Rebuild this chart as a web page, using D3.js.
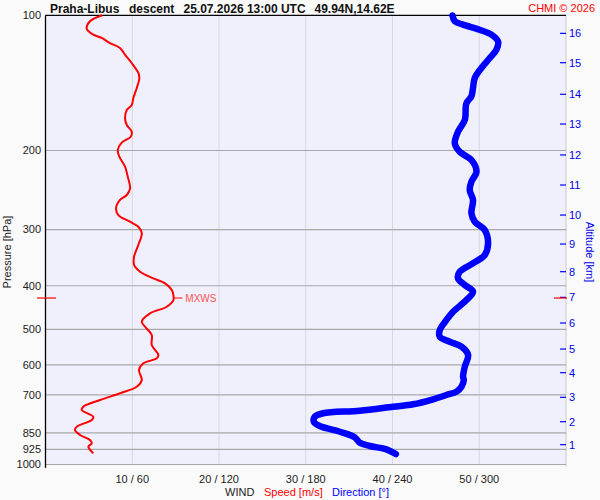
<!DOCTYPE html>
<html><head><meta charset="utf-8">
<script src="https://cdn.jsdelivr.net/npm/d3@7"></script>
<style>
html,body{margin:0;padding:0;background:#fafafa;}
svg{display:block;font-family:"Liberation Sans",Arial,sans-serif;}
</style></head><body>
<svg id="c" width="600" height="500"></svg>
<script>
// ---- data ----
const pressureTicks = [100,200,300,400,500,600,700,850,925,1000];
const windTicks = [10,20,30,40,50];
const windTickLabels = ["10 / 60","20 / 120","30 / 180","40 / 240","50 / 300"];
const altKm = [16,15,14,13,12,11,10,9,8,7,6,5,4,3,2,1];
const altP  = [109.7,127.5,149.9,174.6,204.6,238.7,278.4,323.0,372.2,424.5,484.2,553.3,624.7,708.7,803.0,903.4];

const speedP = [100,103.1,107.1,110.4,112.3,115.3,118.2,122.4,127.7,134.4,137.9,145.1,152.8,158.4,162.5,169.6,175.5,181.6,186.3,192.1,199.5,206.4,217.3,228.7,242.7,251.2,257.7,269,278.4,288.1,295.6,305.8,324.6,344.6,359.6,372.2,385.1,395.1,408.9,419.5,430.4,445.4,460.7,481.0,493.5,514.9,542.0,570.5,580.3,595.3,616.1,648.5,671.1,694.2,718.4,743.5,756.2,782.6,796,823.8,837.9,859.6,881.9,897,912.9,944.3];
const speedV = [6.55,5.13,4.75,5.51,6.47,7.43,8.58,9.16,9.93,10.70,10.82,10.52,10.13,9.94,9.37,9.17,9.37,9.94,9.83,8.79,8.33,8.51,9.17,9.48,9.75,9.37,8.59,8.13,8.40,9.75,10.70,11.10,10.70,10.21,10.21,10.90,12.43,13.78,14.56,14.74,14.74,13.98,12.05,11.10,11.48,12.25,12.25,13.01,12.83,11.28,10.78,11.10,10.52,8.59,6.29,4.36,4.18,5.51,5.33,3.60,3.40,3.98,5.13,5.33,4.94,5.51];

const dirP = [100.1,103.1,104.9,107.7,110.4,114.3,119.3,124.5,131.0,137.9,145.1,151.4,157.0,171.1,181.6,192.8,201.3,210.0,222.9,234.6,244.9,257.7,275.9,288.1,300.6,321.9,341.7,356.5,372.2,385.1,398.5,412.4,430.4,457.0,476.8,501.9,519.4,532.9,546.7,570.5,605.8,637.6,648.5,671.1,688.5,700.3,715.9,734.5,743.5,758.9,769.1,782.6,803.0,821.0,845.3,870.0,894.3,909.6,925.3,947.6];
const dirV = [281.5,283.1,288.8,300.3,308.4,313.0,311.9,307.3,301.5,296.9,295.7,294.6,291.1,290.0,285.3,283.1,286.5,294.6,298.1,294.6,293.4,295.7,294.6,296.9,303.8,306.1,303.8,295.7,286.5,285.3,290.0,295.7,291.1,281.9,277.3,272.7,272.7,279.6,287.7,292.3,290.0,288.8,289.3,287.7,284.2,277.3,268.1,254.2,240.4,217.4,192.0,186.3,185.6,189.7,203.6,213.9,217.4,224.3,235.8,242.3];

const maxWind = {p:426, v:14.74, label:"MXWS"};

// ---- layout ----
const L = 45.5, R = 566, T = 15.3, B = 464.5;
const svg = d3.select("#c");
const y = d3.scaleLog().domain([100,1000]).range([T,B]);
const xs = d3.scaleLinear().domain([0,60]).range([L,R]);
const xd = d3.scaleLinear().domain([0,360]).range([L,R]);

svg.append("rect").attr("x",0).attr("y",0).attr("width",600).attr("height",500).attr("fill","#fafafa");
svg.append("rect").attr("x",L).attr("y",T).attr("width",R-L).attr("height",B-T).attr("fill","#f0f0fd");

// vertical grid
svg.append("g").selectAll("line").data(windTicks).join("line")
  .attr("x1",d=>xs(d)).attr("x2",d=>xs(d)).attr("y1",T).attr("y2",B)
  .attr("stroke","#d8d8e0").attr("stroke-width",1);
svg.append("line").attr("x1",R).attr("x2",R).attr("y1",T).attr("y2",B+2).attr("stroke","#c8c8c8");

// horizontal grid
svg.append("g").selectAll("line").data(pressureTicks.filter(p=>p>100)).join("line")
  .attr("x1",L).attr("x2",R).attr("y1",d=>y(d)).attr("y2",d=>y(d))
  .attr("stroke","#a8a8a8").attr("stroke-width",1.2);

// frame
svg.append("line").attr("x1",L).attr("x2",R).attr("y1",T).attr("y2",T).attr("stroke","#000").attr("stroke-width",1.3);
svg.append("line").attr("x1",L).attr("x2",L).attr("y1",T).attr("y2",B+3.5).attr("stroke","#000").attr("stroke-width",1.3);

// left axis labels
svg.append("g").selectAll("text").data(pressureTicks).join("text")
  .attr("x",41).attr("y",d=>y(d)).attr("dy","0.35em").attr("text-anchor","end")
  .attr("font-size",11).attr("fill","#222").text(d=>d);
svg.append("text").attr("transform","translate(11,252) rotate(-90)").attr("text-anchor","middle")
  .attr("font-size",11).attr("fill","#222").text("Pressure [hPa]");

// bottom labels
svg.append("g").selectAll("text").data(windTicks).join("text")
  .attr("x",d=>xs(d)).attr("y",483).attr("text-anchor","middle")
  .attr("font-size",11).attr("fill","#222").text((d,i)=>windTickLabels[i]);
svg.append("text").attr("x",225).attr("y",496).attr("font-size",11).attr("fill","#222").text("WIND");
svg.append("text").attr("x",264).attr("y",496).attr("font-size",11).attr("fill","#ff0000").text("Speed [m/s]");
svg.append("text").attr("x",332).attr("y",496).attr("font-size",11).attr("fill","#0000ff").text("Direction [°]");

// right altitude axis
const ga = svg.append("g");
ga.selectAll("line").data(altKm).join("line")
  .attr("x1",560).attr("x2",566).attr("y1",(d,i)=>y(altP[i])).attr("y2",(d,i)=>y(altP[i]))
  .attr("stroke","#0000ff").attr("stroke-width",1.2);
ga.selectAll("text").data(altKm).join("text")
  .attr("x",569).attr("y",(d,i)=>y(altP[i])).attr("dy","0.35em")
  .attr("font-size",11).attr("fill","#0000ee").text(d=>d);
svg.append("text").attr("transform","translate(586,252) rotate(90)").attr("text-anchor","middle")
  .attr("font-size",11).attr("fill","#0000ee").text("Altitude [km]");

// curves
const speedData = speedP.map((p,i)=>({p, v:speedV[i]}));
const dirData = dirP.map((p,i)=>({p, v:dirV[i]}));
svg.append("path").datum(dirData)
  .attr("d", d3.line().x(d=>xd(d.v)).y(d=>y(d.p)).curve(d3.curveCatmullRom))
  .attr("fill","none").attr("stroke","#0000ff").attr("stroke-width",6.5)
  .attr("stroke-linecap","round").attr("stroke-linejoin","round");
svg.append("path").datum(speedData)
  .attr("d", d3.line().x(d=>xs(d.v)).y(d=>y(d.p)).curve(d3.curveCatmullRom))
  .attr("fill","none").attr("stroke","#ff0000").attr("stroke-width",2)
  .attr("stroke-linejoin","round");

// max wind marker
const my = y(maxWind.p);
svg.append("line").attr("x1",xs(maxWind.v)).attr("x2",xs(maxWind.v)+9).attr("y1",my).attr("y2",my)
  .attr("stroke","#ff0000").attr("stroke-width",1);
svg.append("text").attr("x",xs(maxWind.v)+12).attr("y",my).attr("dy","0.35em")
  .attr("font-size",10).attr("fill","#ff5050").text(maxWind.label);
svg.append("line").attr("x1",37).attr("x2",56).attr("y1",my).attr("y2",my).attr("stroke","#ff0000").attr("stroke-width",1.2);
svg.append("line").attr("x1",554).attr("x2",567).attr("y1",my).attr("y2",my).attr("stroke","#ff0000").attr("stroke-width",1.2);

// title
const tg = svg.append("g").attr("font-size",12).attr("font-weight","bold").attr("fill","#111");
tg.append("text").attr("x",50).attr("y",13).text("Praha-Libus");
tg.append("text").attr("x",129).attr("y",13).text("descent");
tg.append("text").attr("x",183.5).attr("y",13).text("25.07.2026 13:00 UTC");
tg.append("text").attr("x",314.5).attr("y",13).text("49.94N,14.62E");
svg.append("text").attr("x",595).attr("y",12).attr("text-anchor","end")
  .attr("font-size",11).attr("fill","#ff0000").text("CHMI © 2026");
</script>
</body></html>
